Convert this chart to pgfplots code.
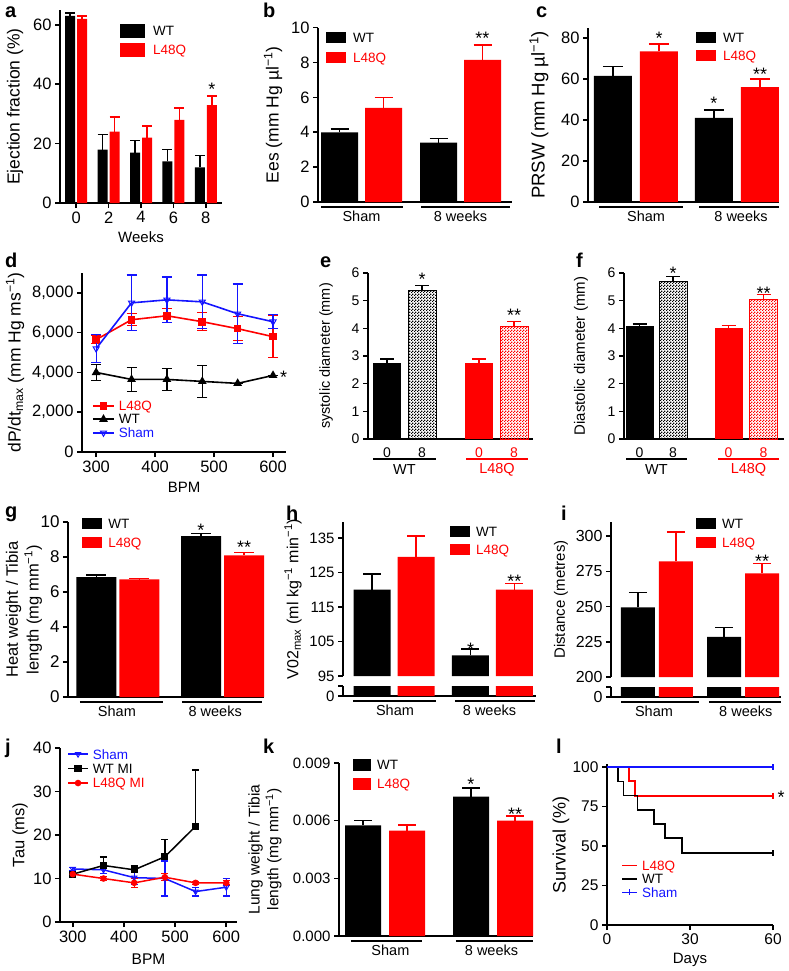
\documentclass[border=0pt]{standalone}
\usepackage{fontspec}
\setmainfont{Liberation Sans}
\usepackage{pgfplots}
\pgfplotsset{compat=1.18}
\usetikzlibrary{patterns.meta}

\definecolor{myred}{RGB}{255,0,0}
\definecolor{myblue}{RGB}{20,20,255}
\newcommand\fs[1]{\fontsize{#1}{#1}\selectfont}

\tikzdeclarepattern{
  name=fchk, type=uncolored,
  bottom left={(0pt,0pt)}, top right={(3pt,3pt)}, tile size={(3pt,3pt)},
  code={\fill (0pt,0pt) rectangle (1.5pt,1.5pt); \fill (1.5pt,1.5pt) rectangle (3pt,3pt);}
}

\pgfplotsset{
  base/.style={
    scale only axis, anchor=south west, clip=false,
    axis lines=left, axis line style={-, line width=1.6pt},
    tick style={line width=1.6pt, black},
    tick align=outside, major tick length=5pt,
    tick label style={font=\fs{16}},
    /pgf/number format/assume math mode=true,
    scaled ticks=false, legend cell align=left,
  },
  yl/.style 2 args={every axis y label/.style={at={([xshift=-#1]axis description cs:0,0.5)}, anchor=center, rotate=90, font=\fs{#2}, align=center}},
  xl/.style 2 args={every axis x label/.style={at={([yshift=-#1]axis description cs:0.5,0)}, anchor=center, font=\fs{#2}}},
  legbox/.style n args={3}{legend image code/.code={\fill[#1] (0pt,-#3) rectangle (#2,#3);}},
  legline/.style 2 args={legend image code/.code={\draw[mark repeat=2, mark phase=2, ##1] plot coordinates {(0pt,0pt) (#1,0pt) (#2,0pt)};}},
  lg/.style n args={4}{legend style={draw=none, fill=none, at={(axis description cs:#1,#2)}, anchor=north west, inner sep=0pt, row sep=#3, column sep=#4, font=\fs{13.5}, nodes={inner sep=0pt, text depth=0pt}}},
  eplus/.style 2 args={/pgfplots/error bars/y dir=plus, /pgfplots/error bars/y explicit, /pgfplots/error bars/error bar style={line width=1.5pt, #1}, /pgfplots/error bars/error mark options={rotate=90, line width=1.5pt, #1, mark size=#2}},
  eboth/.style 2 args={/pgfplots/error bars/y dir=both, /pgfplots/error bars/y explicit, /pgfplots/error bars/error bar style={line width=1.3pt, #1, solid}, /pgfplots/error bars/error mark options={rotate=90, line width=1.3pt, #1, mark size=#2, solid}},
}
\tikzset{
  star/.style={font=\fs{18}, inner sep=0pt, yshift=-4pt},
  glab/.style={font=\fs{14.5}, inner sep=0pt, yshift=-14pt},
  uline/.style={line width=1.4pt},
  plab/.style={font=\fs{20}\bfseries, anchor=base west, inner sep=0pt},
}

\begin{document}
\begin{tikzpicture}
\useasboundingbox (0pt,0pt) rectangle (788pt,-971pt);

% ---------- a ----------
\begin{axis}[base, ybar, at={(60pt,-203pt)}, width=162pt, height=193pt,
  xmin=-1, xmax=9, ymin=0, ymax=65, xtick={0,2,4,6,8}, ytick={0,20,40,60},
  bar width=10pt, xlabel={Weeks}, ylabel={Ejection fraction (\%)},
  yl={45pt}{17.5}, xl={34pt}{15}, tick label style={font=\fs{16.5}},
  lg={0.37}{0.9275}{5pt}{8pt}]
\addplot[fill=black, draw=none, bar shift=-6pt, eplus={black}{5pt}, legbox={black}{25pt}{7pt}]
  coordinates {(0,63)+-(0,1) (2,18)+-(0,5) (4,17)+-(0,4) (6,14)+-(0,4) (8,12)+-(0,4)};
\addplot[fill=myred, draw=none, bar shift=6pt, eplus={myred}{5pt}, legbox={myred}{25pt}{7pt}]
  coordinates {(0,62)+-(0,1) (2,24)+-(0,5) (4,22)+-(0,4) (6,28)+-(0,4) (8,33)+-(0,3)};
\legend{WT, \textcolor{myred}{L48Q}}
\node[star] at (axis cs:8.37,39.7) {*};
\end{axis}

% ---------- b ----------
\begin{axis}[base, ybar, at={(318pt,-202pt)}, width=194pt, height=174.3pt,
  xmin=-0.4394, xmax=1.5202, ymin=0, ymax=10, xtick=\empty, ytick={0,2,...,10},
  bar width=37pt, ylabel={Ees (mm Hg µl\textsuperscript{−1})}, yl={45pt}{17.5},
  tick label style={font=\fs{16.5}}, lg={0.041}{0.975}{9pt}{7pt}]
\addplot[fill=black, draw=none, bar shift=-22pt, eplus={black}{9pt}, legbox={black}{20pt}{5.5pt}]
  coordinates {(0,4.0)+-(0,0.2) (1,3.4)+-(0,0.25)};
\addplot[fill=myred, draw=none, bar shift=22pt, eplus={myred}{9pt}, legbox={myred}{20pt}{5.5pt}]
  coordinates {(0,5.4)+-(0,0.6) (1,8.15)+-(0,0.85)};
\legend{WT, \textcolor{myred}{L48Q}}
\node[star] at (axis cs:1.222,9.6) {**};
\draw[uline] ([yshift=-5pt]axis cs:-0.409,0) -- ([yshift=-5pt]axis cs:0.419,0);
\draw[uline] ([yshift=-5pt]axis cs:0.601,0) -- ([yshift=-5pt]axis cs:1.5,0);
\node[glab] at (axis cs:0,0) {Sham};
\node[glab] at (axis cs:1,0) {8 weeks};
\end{axis}

% ---------- c ----------
\begin{axis}[base, ybar, at={(588pt,-202pt)}, width=191pt, height=174.25pt,
  xmin=-0.475, xmax=1.416, ymin=0, ymax=85, xtick=\empty, ytick={0,20,...,80},
  bar width=38pt, ylabel={PRSW (mm Hg µl\textsuperscript{−1})}, yl={49pt}{18.5},
  tick label style={font=\fs{16.5}}, lg={0.565}{0.977}{7pt}{7pt}]
\addplot[fill=black, draw=none, bar shift=-23pt, eplus={black}{10pt}, legbox={black}{20pt}{5.5pt}]
  coordinates {(0,61.5)+-(0,4.5) (1,41)+-(0,4)};
\addplot[fill=myred, draw=none, bar shift=23pt, eplus={myred}{10pt}, legbox={myred}{20pt}{5.5pt}]
  coordinates {(0,73.5)+-(0,3.5) (1,56)+-(0,4)};
\legend{WT, \textcolor{myred}{L48Q}}
\node[star] at (axis cs:0.228,82) {*};
\node[star] at (axis cs:0.772,50) {*};
\node[star] at (axis cs:1.228,64) {**};
\draw[uline] ([yshift=-5pt]axis cs:-0.366,0) -- ([yshift=-5pt]axis cs:0.465,0);
\draw[uline] ([yshift=-5pt]axis cs:0.624,0) -- ([yshift=-5pt]axis cs:1.416,0);
\node[glab] at (axis cs:0.1,0) {Sham};
\node[glab] at (axis cs:1.04,0) {8 weeks};
\end{axis}

% ---------- d ----------
\begin{axis}[base, at={(82pt,-452pt)}, width=204pt, height=179pt,
  xmin=276, xmax=622, ymin=0, ymax=9000, xtick={300,400,500,600}, ytick={0,2000,...,8000},
  xlabel={BPM}, ylabel={dP/dt\textsubscript{max} (mm Hg ms\textsuperscript{−1})},
  yl={67pt}{17.5}, xl={35pt}{15}, tick label style={font=\fs{16.5}}, lg={0.049}{0.285}{4pt}{4pt}]
\addplot[myred, line width=1.6pt, mark=square*, mark size=3pt, mark options={solid}, eboth={myred}{5pt}, legline={10.5pt}{21pt}]
  coordinates {(300,5650)+-(0,200) (360,6650)+-(0,300) (420,6850)+-(0,350) (480,6550)+-(0,450) (540,6200)+-(0,600) (600,5800)+-(0,1050)};
\addplot[black, line width=1.6pt, mark=triangle*, mark size=3.5pt, mark options={solid}, eboth={black}{5pt}, legline={10.5pt}{21pt}]
  coordinates {(300,4000)+-(0,400) (360,3650)+-(0,600) (420,3650)+-(0,550) (480,3550)+-(0,800) (540,3450)+-(0,0) (600,3850)+-(0,0)};
\addplot[myblue, line width=1.6pt, mark=triangle, mark size=3.5pt, mark options={solid, rotate=180, fill=white, line width=1pt}, eboth={myblue}{5pt}, legline={10.5pt}{21pt}]
  coordinates {(300,5200)+-(0,700) (360,7500)+-(0,1400) (420,7650)+-(0,1150) (480,7550)+-(0,1350) (540,6950)+-(0,1500) (600,6550)+-(0,350)};
\legend{\textcolor{myred}{L48Q}, WT, \textcolor{myblue}{Sham}}
\node[star] at (axis cs:618,3975) {*};
\end{axis}

% ---------- e ----------
\begin{axis}[base, ybar, at={(368pt,-439pt)}, width=165pt, height=166pt,
  xmin=0, xmax=165, ymin=0, ymax=6, ytick={0,...,6}, bar width=28pt,
  xtick={19,54,111,146}, xticklabels={0,8,\textcolor{myred}{0},\textcolor{myred}{8}},
  major x tick style={draw=none}, ylabel={systolic diameter (mm)}, yl={42pt}{14.5},
  tick label style={font=\fs{14}}]
\addplot[fill=black, draw=none, bar shift=0pt, eplus={black}{7pt}] coordinates {(19,2.75)+-(0,0.15)};
\addplot[pattern=fchk, pattern color=black, draw=black, line width=1pt, bar shift=0pt, eplus={black}{7pt}] coordinates {(54,5.35)+-(0,0.2)};
\addplot[fill=myred, draw=none, bar shift=0pt, eplus={myred}{7pt}] coordinates {(111,2.75)+-(0,0.15)};
\addplot[pattern=fchk, pattern color=myred, draw=myred, line width=1pt, bar shift=0pt, eplus={myred}{7pt}] coordinates {(146,4.05)+-(0,0.2)};
\node[star] at (axis cs:54,5.9) {*};
\node[star] at (axis cs:146,4.6) {**};
\draw[uline] ([yshift=-20pt]axis cs:5,0) -- ([yshift=-20pt]axis cs:68,0);
\draw[uline, myred] ([yshift=-20pt]axis cs:98,0) -- ([yshift=-20pt]axis cs:160,0);
\node[font=\fs{14.5}, inner sep=0pt] at ([yshift=-31pt]axis cs:36.5,0) {WT};
\node[font=\fs{14.5}, inner sep=0pt, text=myred] at ([yshift=-31pt]axis cs:129,0) {L48Q};
\end{axis}

% ---------- f ----------
\begin{axis}[base, ybar, at={(624pt,-439pt)}, width=160pt, height=166pt,
  xmin=0, xmax=160, ymin=0, ymax=6, ytick={0,...,6}, bar width=28pt,
  xtick={15.5,49,104.5,139.5}, xticklabels={0,8,\textcolor{myred}{0},\textcolor{myred}{8}},
  major x tick style={draw=none}, ylabel={Diastolic diameter (mm)}, yl={43pt}{15},
  tick label style={font=\fs{14}}]
\addplot[fill=black, draw=none, bar shift=0pt, eplus={black}{7pt}] coordinates {(15.5,4.07)+-(0,0.08)};
\addplot[pattern=fchk, pattern color=black, draw=black, line width=1pt, bar shift=0pt, eplus={black}{7pt}] coordinates {(49,5.7)+-(0,0.18)};
\addplot[fill=myred, draw=none, bar shift=0pt, eplus={myred}{7pt}] coordinates {(104.5,4.0)+-(0,0.1)};
\addplot[pattern=fchk, pattern color=myred, draw=myred, line width=1pt, bar shift=0pt, eplus={myred}{7pt}] coordinates {(139.5,5.03)+-(0,0.2)};
\node[star] at (axis cs:49,6.15) {*};
\node[star] at (axis cs:139.5,5.4) {**};
\draw[uline] ([yshift=-20pt]axis cs:2,0) -- ([yshift=-20pt]axis cs:63,0);
\draw[uline, myred] ([yshift=-20pt]axis cs:94,0) -- ([yshift=-20pt]axis cs:155,0);
\node[font=\fs{14.5}, inner sep=0pt] at ([yshift=-31pt]axis cs:32.5,0) {WT};
\node[font=\fs{14.5}, inner sep=0pt, text=myred] at ([yshift=-31pt]axis cs:124.5,0) {L48Q};
\end{axis}

% ---------- g ----------
\begin{axis}[base, ybar, at={(68pt,-697pt)}, width=196pt, height=175pt,
  xmin=-0.478, xmax=1.397, ymin=0, ymax=10, xtick=\empty, ytick={0,2,...,10},
  bar width=40pt, ylabel={Heat weight / Tibia\\[2pt]length (mg mm\textsuperscript{−1})}, yl={44pt}{16.5},
  tick label style={font=\fs{17}}, lg={0.072}{1.023}{8pt}{6pt}]
\addplot[fill=black, draw=none, bar shift=-21.5pt, eplus={black}{10pt}, legbox={black}{20pt}{5.5pt}]
  coordinates {(0,6.85)+-(0,0.12) (1,9.2)+-(0,0.15)};
\addplot[fill=myred, draw=none, bar shift=21.5pt, eplus={myred}{10pt}, legbox={myred}{20pt}{5.5pt}]
  coordinates {(0,6.72)+-(0,0.05) (1,8.1)+-(0,0.15)};
\legend{WT, \textcolor{myred}{L48Q}}
\node[star] at (axis cs:0.794,9.77) {*};
\node[star] at (axis cs:1.206,8.8) {**};
\draw[uline] ([yshift=-5pt]axis cs:-0.364,0) -- ([yshift=-5pt]axis cs:0.431,0);
\draw[uline] ([yshift=-5pt]axis cs:0.612,0) -- ([yshift=-5pt]axis cs:1.378,0);
\node[glab] at (axis cs:-0.01,0) {Sham};
\node[glab] at (axis cs:0.93,0) {8 weeks};
\end{axis}

% ---------- h ----------
\begin{axis}[base, ybar, clip=true, at={(343pt,-676pt)}, width=193pt, height=154pt,
  xmin=-0.518, xmax=1.442, ymin=95, ymax=139.6, axis x line=none,
  xtick=\empty, ytick={95,105,115,125,135}, bar width=37pt,
  ylabel={V02\textsubscript{max} (ml kg\textsuperscript{−1} min\textsuperscript{−1})}, yl={50pt}{16},
  tick label style={font=\fs{15}}, lg={0.554}{0.974}{7pt}{6pt}]
\addplot[fill=black, draw=none, bar shift=-22pt, eplus={black}{9pt}, legbox={black}{20pt}{5.5pt}]
  coordinates {(0,120)+-(0,4.5) (1,101)+-(0,1.8)};
\addplot[fill=myred, draw=none, bar shift=22pt, eplus={myred}{9pt}, legbox={myred}{20pt}{5.5pt}]
  coordinates {(0,129.5)+-(0,6) (1,120)+-(0,1.8)};
\legend{WT, \textcolor{myred}{L48Q}}
\node[star] at (axis cs:0.777,104) {*};
\node[star] at (axis cs:1.223,123.7) {**};
\end{axis}
\begin{axis}[base, ybar, at={(343pt,-696pt)}, width=193pt, height=10pt,
  xmin=-0.518, xmax=1.442, ymin=0, ymax=1, xtick=\empty, ytick={0,1}, yticklabels={0,{}},
  tick label style={font=\fs{15}}, bar width=37pt]
\addplot[fill=black, draw=none, bar shift=-22pt] coordinates {(0,1) (1,1)};
\addplot[fill=myred, draw=none, bar shift=22pt] coordinates {(0,1) (1,1)};
\draw[uline] ([yshift=-5pt]axis cs:-0.416,0) -- ([yshift=-5pt]axis cs:0.426,0);
\draw[uline] ([yshift=-5pt]axis cs:0.619,0) -- ([yshift=-5pt]axis cs:1.431,0);
\node[glab] at (axis cs:0.01,0) {Sham};
\node[glab] at (axis cs:0.97,0) {8 weeks};
\end{axis}

% ---------- i ----------
\begin{axis}[base, ybar, clip=true, at={(611pt,-677pt)}, width=170pt, height=155pt,
  xmin=-0.533, xmax=1.438, ymin=200, ymax=310, axis x line=none,
  xtick=\empty, ytick={200,225,250,275,300}, bar width=34pt,
  ylabel={Distance (metres)}, yl={50pt}{15},
  tick label style={font=\fs{16}}, lg={0.5}{1.026}{8pt}{6pt}]
\addplot[fill=black, draw=none, bar shift=-19pt, eplus={black}{9pt}, legbox={black}{20pt}{5.5pt}]
  coordinates {(0,249.5)+-(0,10.5) (1,228.5)+-(0,6.5)};
\addplot[fill=myred, draw=none, bar shift=19pt, eplus={myred}{9pt}, legbox={myred}{20pt}{5.5pt}]
  coordinates {(0,282)+-(0,21) (1,273.5)+-(0,7)};
\legend{WT, \textcolor{myred}{L48Q}}
\node[star] at (axis cs:1.22,285) {**};
\end{axis}
\begin{axis}[base, ybar, at={(611pt,-697pt)}, width=170pt, height=10pt,
  xmin=-0.533, xmax=1.438, ymin=0, ymax=1, xtick=\empty, ytick={0,1}, yticklabels={0,{}},
  tick label style={font=\fs{16}}, bar width=34pt]
\addplot[fill=black, draw=none, bar shift=-19pt] coordinates {(0,1) (1,1)};
\addplot[fill=myred, draw=none, bar shift=19pt] coordinates {(0,1) (1,1)};
\draw[uline] ([yshift=-5pt]axis cs:-0.417,0) -- ([yshift=-5pt]axis cs:0.487,0);
\draw[uline] ([yshift=-5pt]axis cs:0.603,0) -- ([yshift=-5pt]axis cs:1.438,0);
\node[glab] at (axis cs:-0.035,0) {Sham};
\node[glab] at (axis cs:1.03,0) {8 weeks};
\end{axis}

% ---------- j ----------
\begin{axis}[base, at={(60pt,-922pt)}, width=177pt, height=174pt,
  xmin=275, xmax=621, ymin=0, ymax=40, xtick={300,400,500,600}, ytick={0,10,...,40},
  xlabel={BPM}, ylabel={Tau (ms)}, yl={40pt}{16.5}, xl={37pt}{15.5},
  tick label style={font=\fs{16.5}}, lg={0.04}{0.994}{5pt}{4pt}]
\addplot[myblue, line width=1.5pt, mark=triangle, mark size=3pt, mark options={solid, rotate=180, fill=white, line width=1pt}, eboth={myblue}{3.5pt}, legline={10pt}{20pt}]
  coordinates {(300,12.2)+-(0,0.3) (360,12)+-(0,0.8) (420,10.2)+-(0,1.5) (480,10)+-(0,4) (540,7)+-(0,1) (600,8)+-(0,2)};
\addplot[black, line width=1.5pt, mark=square*, mark size=2.8pt, mark options={solid}, eplus={black}{3.5pt}, legline={10pt}{20pt}]
  coordinates {(300,11)+-(0,0.2) (360,13)+-(0,2) (420,12)+-(0,1) (480,15)+-(0,4) (540,22)+-(0,13)};
\addplot[myred, line width=1.5pt, mark=*, mark size=2.5pt, mark options={solid}, eboth={myred}{3.5pt}, legline={10pt}{20pt}]
  coordinates {(300,11)+-(0,0.3) (360,10)+-(0,0.5) (420,9)+-(0,1) (480,10.3)+-(0,0.8) (540,9)+-(0,0.3) (600,9)+-(0,0.5)};
\legend{\textcolor{myblue}{Sham}, WT MI, \textcolor{myred}{L48Q MI}}
\end{axis}

% ---------- k ----------
\begin{axis}[base, ybar, at={(339pt,-936pt)}, width=194pt, height=173pt,
  xmin=-0.426, xmax=1.37, ymin=0, ymax=0.009, xtick=\empty, ytick={0,0.003,0.006,0.009},
  yticklabel style={/pgf/number format/fixed, /pgf/number format/fixed zerofill, /pgf/number format/precision=3},
  bar width=36pt, ylabel={Lung weight / Tibia\\[2pt]length (mg mm\textsuperscript{−1})}, yl={74pt}{15.5},
  tick label style={font=\fs{15}}, lg={0.072}{1.023}{7pt}{6pt}]
\addplot[fill=black, draw=none, bar shift=-22pt, eplus={black}{9pt}, legbox={black}{18pt}{6pt}]
  coordinates {(0,0.00575)+-(0,0.00025) (1,0.00725)+-(0,0.00045)};
\addplot[fill=myred, draw=none, bar shift=22pt, eplus={myred}{9pt}, legbox={myred}{18pt}{6pt}]
  coordinates {(0,0.00548)+-(0,0.0003) (1,0.006)+-(0,0.00025)};
\legend{WT, \textcolor{myred}{L48Q}}
\node[star] at (axis cs:0.796,0.0081) {*};
\node[star] at (axis cs:1.204,0.00656) {**};
\draw[uline] ([yshift=-5pt]axis cs:-0.315,0) -- ([yshift=-5pt]axis cs:0.343,0);
\draw[uline] ([yshift=-5pt]axis cs:0.657,0) -- ([yshift=-5pt]axis cs:1.37,0);
\node[glab] at (axis cs:0.05,0) {Sham};
\node[glab] at (axis cs:0.986,0) {8 weeks};
\end{axis}

% ---------- l ----------
\begin{axis}[base, at={(607pt,-925pt)}, width=166pt, height=161pt,
  xmin=0, xmax=60, ymin=0, ymax=102, xtick={0,30,60}, ytick={0,25,...,100},
  xlabel={Days}, ylabel={Survival (\%)}, yl={46pt}{18}, xl={35pt}{15},
  tick label style={font=\fs{15.5}}, lg={0.084}{0.4}{4pt}{4pt}]
\addplot[myred, line width=1.9pt, const plot, mark=|, mark size=3pt, mark indices={4}, legline={7.5pt}{15pt}]
  coordinates {(0,100) (8,91) (10,82) (60,82)};
\addplot[black, line width=1.6pt, const plot, mark=|, mark size=3pt, mark indices={8}, legline={7.5pt}{15pt}]
  coordinates {(0,100) (4,91) (6,82) (11,73) (17,64) (21,55) (27,45.5) (60,45.5)};
\addplot[myblue, line width=1.6pt, const plot, mark=|, mark size=3pt, mark indices={2}, legline={7.5pt}{15pt}]
  coordinates {(0,100) (60,100)};
\legend{\textcolor{myred}{L48Q}, WT, \textcolor{myblue}{Sham}}
\node[star] at (axis cs:62.9,83.5) {*};
\end{axis}

% panel letters
\node[plab] at (5pt,-18pt) {a};
\node[plab] at (263pt,-18pt) {b};
\node[plab] at (536pt,-18pt) {c};
\node[plab] at (5pt,-267pt) {d};
\node[plab] at (320pt,-267pt) {e};
\node[plab] at (576pt,-267pt) {f};
\node[plab] at (5pt,-517pt) {g};
\node[plab] at (286pt,-520pt) {h};
\node[plab] at (561pt,-520pt) {i};
\node[plab] at (5pt,-753pt) {j};
\node[plab] at (263pt,-753pt) {k};
\node[plab] at (556pt,-753pt) {l};
\end{tikzpicture}
\end{document}
